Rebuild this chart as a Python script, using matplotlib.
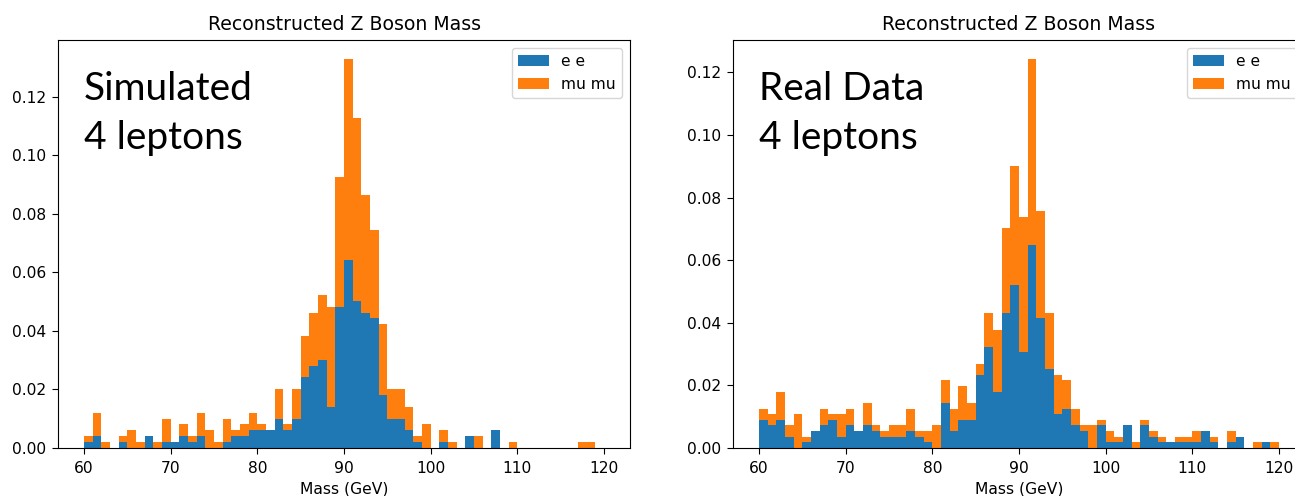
# Z boson mass reconstruction from 4-lepton events: simulated vs real data
import numpy as np
import matplotlib.pyplot as plt

# 1 GeV bins from 60 to 120 GeV
bin_edges = np.arange(60, 121, 1)
bin_centers = bin_edges[:-1] + 0.5

# Simulated sample, events per bin (60..119 GeV)
sim_ee = [1, 2, 0, 0, 1, 0, 0, 2, 0, 1,
          1, 2, 1, 2, 0, 0, 1, 2, 2, 3,
          3, 3, 5, 3, 5, 12, 14, 15, 7, 24,
          32, 25, 23, 22, 9, 5, 5, 3, 1, 0,
          0, 1, 0, 0, 2, 0, 0, 3, 0, 0,
          0, 0, 0, 0, 0, 0, 0, 0, 0, 0]
sim_mumu = [1, 4, 1, 0, 1, 3, 1, 0, 1, 4,
            0, 2, 1, 4, 3, 1, 4, 1, 2, 3,
            1, 0, 5, 1, 5, 7, 9, 11, 17, 22,
            34, 31, 20, 15, 12, 5, 5, 4, 1, 4,
            0, 2, 1, 0, 0, 2, 0, 0, 0, 1,
            0, 0, 0, 0, 0, 0, 0, 1, 1, 0]

# Real data, events per bin (60..119 GeV)
real_ee = [5, 4, 5, 2, 0, 1, 3, 4, 5, 2,
           4, 3, 4, 3, 2, 2, 2, 3, 2, 1,
           0, 8, 3, 5, 5, 13, 18, 10, 24, 29,
           17, 36, 23, 14, 6, 7, 4, 3, 0, 4,
           1, 1, 4, 0, 4, 2, 1, 1, 1, 1,
           1, 3, 1, 0, 1, 2, 0, 0, 1, 0]
real_mumu = [2, 2, 5, 2, 6, 1, 0, 3, 1, 4,
             3, 0, 4, 1, 1, 2, 2, 4, 1, 2,
             4, 4, 4, 6, 3, 2, 6, 11, 15, 21,
             24, 33, 19, 10, 7, 5, 3, 1, 4, 1,
             2, 1, 0, 1, 1, 1, 1, 0, 1, 1,
             2, 0, 1, 0, 2, 0, 0, 1, 0, 1]

labels = ["e e", "mu mu"]
colors = ["tab:blue", "tab:orange"]

plt.rcParams["font.size"] = 11.2
plt.rcParams["xtick.major.size"] = 4
plt.rcParams["ytick.major.size"] = 4
plt.rcParams["xtick.major.pad"] = 5.5
plt.rcParams["ytick.major.pad"] = 4.5

W, H = 1295, 496
fig = plt.figure(figsize=(W / 100, H / 100), dpi=100)


def add_panel(left_px, ee, mumu, tag):
    ax = fig.add_axes([left_px / W, (H - 448) / H, 572 / W, 408 / H])
    ax.hist([bin_centers, bin_centers], bins=bin_edges,
            weights=[ee, mumu], stacked=True, density=True,
            color=colors, label=labels)
    ax.set_title("Reconstructed Z Boson Mass", fontsize=13.6, pad=7)
    ax.set_xlabel("Mass (GeV)", labelpad=4)
    ax.legend(loc="upper right")
    ax.text(0.045, 0.925, tag, transform=ax.transAxes, va="top", ha="left",
            fontsize=28, family="Lato", linespacing=1.45)
    return ax


add_panel(58, sim_ee, sim_mumu, "Simulated\n4 leptons")
add_panel(733, real_ee, real_mumu, "Real Data\n4 leptons")

fig.savefig("out.png", dpi=100)
